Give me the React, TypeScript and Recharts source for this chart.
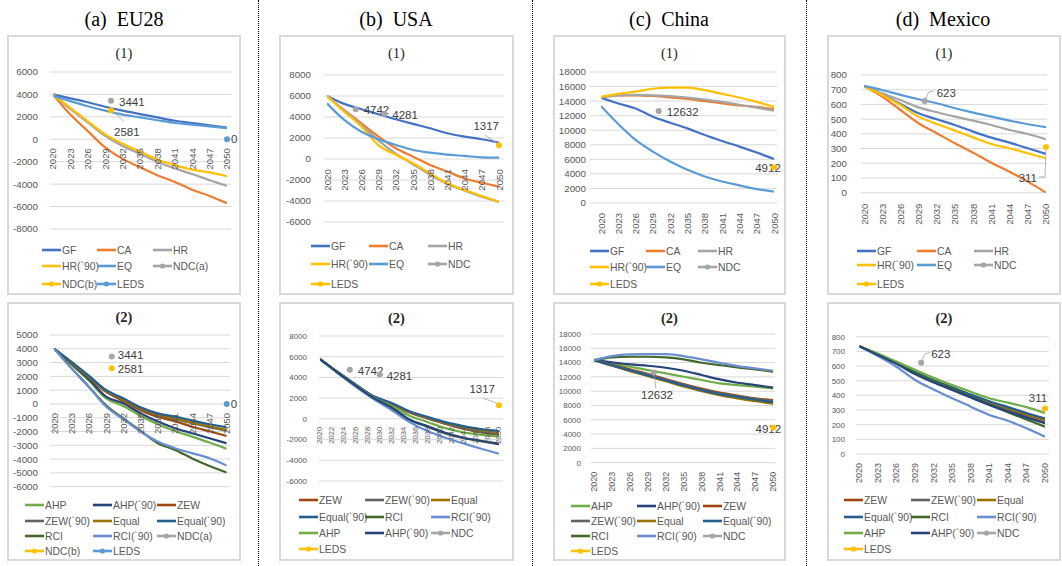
import React from 'react'
import { LineChart, Line, XAxis, YAxis, CartesianGrid, ReferenceDot } from 'recharts'

const SANS = '"Liberation Sans", Arial, sans-serif'
const SERIF = '"Liberation Serif", "Times New Roman", serif'

// years used for the series values, and the tick labels
const years = [2020, 2023, 2026, 2029, 2032, 2035, 2038, 2041, 2044, 2047, 2050]
const yearTicks2 = [2020, 2022, 2024, 2026, 2028, 2030, 2032, 2034, 2036, 2038, 2040, 2042, 2044, 2046, 2048, 2050]

const euTicks1 = [-8000, -6000, -4000, -2000, 0, 2000, 4000, 6000]
const euTicks2 = [-6000, -5000, -4000, -3000, -2000, -1000, 0, 1000, 2000, 3000, 4000, 5000]
const usTicks = [-6000, -4000, -2000, 0, 2000, 4000, 6000, 8000]
const cnTicks = [0, 2000, 4000, 6000, 8000, 10000, 12000, 14000, 16000, 18000]
const mxTicks = [0, 100, 200, 300, 400, 500, 600, 700, 800]

// (a) EU28 (1)
const euGF = [4000, 3650, 3300, 2900, 2550, 2250, 1950, 1650, 1450, 1250, 1050]
const euCA = [4000, 2200, 730, -730, -1750, -2500, -3200, -3800, -4500, -5050, -5700]
const euHR = [4000, 2700, 1500, 300, -600, -1300, -2000, -2600, -3100, -3650, -4150]
const euHR90 = [4000, 2800, 1600, 440, -400, -1100, -1800, -2300, -2700, -2950, -3300]
const euEQ = [3900, 3400, 2950, 2550, 2200, 1950, 1700, 1450, 1300, 1150, 1000]
// (a) EU28 (2)
const euAHP = [4000, 2850, 1700, 410, -145, -870, -1470, -1960, -2370, -2800, -3260]
const euAHP90 = [4000, 2900, 1800, 530, 50, -680, -1280, -1760, -2125, -2490, -2850]
const euZEW = [4000, 2950, 1930, 870, 220, -460, -950, -1250, -1650, -1980, -2320]
const euZEW90 = [4000, 3000, 1980, 930, 300, -360, -820, -1110, -1400, -1680, -1950]
const euEqual = [4000, 3000, 2000, 950, 330, -320, -780, -1060, -1350, -1620, -1880]
const euEqual90 = [4000, 3050, 2050, 1010, 410, -240, -680, -920, -1210, -1470, -1690]
const euRCI = [4000, 2580, 1255, -100, -1050, -1950, -2850, -3330, -3950, -4500, -4975]
const euRCI90 = [4000, 2580, 1255, -190, -1110, -2000, -2730, -3210, -3570, -3940, -4470]
const euNdcAYears = [2030]
const euNdcA = [3441]
const euNdcBYears = [2030]
const euNdcB = [2581]
const euLedsYears = [2050]
const euLeds = [0]

// (b) USA (1)
const usGF = [6000, 5250, 4740, 4260, 3780, 3340, 2930, 2450, 2130, 1880, 1560]
const usCA = [6000, 4650, 3400, 2130, 1020, 220, -570, -1200, -1850, -2260, -2640]
const usHR = [6000, 4600, 3250, 1750, 500, -500, -1500, -2400, -3000, -3600, -4100]
const usHR90 = [6000, 4500, 3100, 1300, 400, -400, -1370, -2320, -2960, -3530, -4070]
const usEQ = [5300, 3720, 2600, 1880, 1340, 860, 600, 410, 290, 160, 130]
// (b) USA (2)
const usZEW = [5760, 4480, 3280, 2100, 1420, 620, 50, -480, -950, -1300, -1550]
const usZEW90 = [5760, 4480, 3280, 2120, 1450, 650, 80, -450, -900, -1250, -1500]
const usEqual = [5760, 4500, 3300, 2150, 1500, 700, 150, -380, -780, -1100, -1350]
const usEqual90 = [5760, 4500, 3300, 2180, 1540, 740, 190, -320, -700, -1000, -1180]
const usRCI = [5760, 4450, 3200, 1950, 1060, -100, -750, -1400, -1850, -2150, -2450]
const usRCI90 = [5760, 4400, 3100, 1920, 850, -300, -1180, -1820, -2370, -2880, -3360]
const usAHP = [5760, 4450, 3250, 2050, 1250, 300, -300, -900, -1300, -1550, -1700]
const usAHP90 = [5760, 4450, 3200, 2000, 1100, -60, -700, -1340, -1820, -2140, -2400]
const usNdcYears = [2025, 2030]
const usNdc = [4742, 4281]
const usLedsYears = [2050]
const usLeds = [1317]

// (c) China (1)
const cnGF = [14450, 13670, 12990, 11850, 11030, 10250, 9340, 8520, 7750, 6930, 6060]
const cnCA = [14500, 14800, 14800, 14700, 14500, 14300, 14000, 13700, 13400, 13200, 12900]
const cnHR = [14500, 14800, 14850, 14800, 14700, 14500, 14200, 13900, 13500, 13100, 12700]
const cnHR90 = [14600, 15000, 15300, 15700, 15850, 15850, 15500, 15000, 14500, 13900, 13200]
const cnEQ = [13300, 10850, 8660, 7060, 5700, 4560, 3650, 2960, 2420, 1910, 1550]
// (c) China (2)
const cnAHP = [14350, 13890, 13420, 12950, 12490, 12020, 11560, 11090, 10860, 10620, 10390]
const cnAHP90 = [14350, 14030, 13750, 13560, 13280, 12860, 12260, 11650, 11180, 10860, 10490]
const cnZEW = [14350, 13700, 13050, 12400, 11700, 11000, 10350, 9800, 9400, 9000, 8750]
const cnZEW90 = [14350, 13650, 12950, 12300, 11600, 10900, 10250, 9700, 9300, 8900, 8600]
const cnEqual = [14350, 13550, 12800, 12100, 11400, 10650, 10000, 9450, 9000, 8600, 8250]
const cnEqual90 = [14350, 13600, 12900, 12200, 11500, 10800, 10150, 9600, 9200, 8800, 8450]
const cnRCI = [14350, 14730, 14820, 14820, 14730, 14450, 13980, 13650, 13330, 13050, 12720]
const cnRCI90 = [14350, 14910, 15145, 15190, 15190, 14900, 14450, 13980, 13510, 13190, 12860]
const cnNdcYears = [2030]
const cnNdc = [12632]
const cnLedsYears = [2050]
const cnLeds = [4912]

// (d) Mexico (1)
const mxGF = [725, 669, 603, 540, 499, 460, 415, 374, 340, 302, 263]
const mxCA = [725, 653, 562, 472, 404, 336, 272, 204, 143, 75, 0]
const mxHR = [725, 676, 630, 580, 547, 517, 490, 460, 426, 399, 363]
const mxHR90 = [725, 664, 596, 517, 467, 422, 376, 331, 302, 268, 234]
const mxEQ = [726, 698, 665, 635, 608, 574, 544, 517, 490, 465, 445]
// (d) Mexico (2)
const mxZEW = [735, 680, 622, 556, 500, 450, 398, 352, 310, 268, 230]
const mxZEW90 = [735, 678, 620, 552, 495, 443, 392, 345, 300, 255, 214]
const mxEqual = [735, 680, 622, 558, 500, 450, 400, 355, 313, 272, 235]
const mxEqual90 = [735, 680, 625, 560, 505, 455, 405, 360, 320, 280, 243]
const mxRCI = [735, 680, 622, 555, 497, 445, 390, 337, 285, 235, 186]
const mxRCI90 = [735, 668, 595, 505, 440, 380, 323, 266, 227, 175, 118]
const mxAHP = [735, 685, 630, 575, 520, 470, 425, 380, 350, 320, 280]
const mxAHP90 = [735, 676, 615, 545, 487, 437, 385, 335, 290, 248, 210]
const mxNdcYears = [2030]
const mxNdc = [623]
const mxLedsYears = [2050]
const mxLeds = [311]

const COL = {
  GF: '#4472C4', CA: '#ED7D31', HR: '#A5A5A5', HR90: '#FFC000', EQ: '#5B9BD5',
  AHP: '#70AD47', AHP90: '#264478', ZEW: '#9E480E', ZEW90: '#636363',
  EQUAL: '#997300', EQUAL90: '#255E91', RCI: '#43682B', RCI90: '#698ED0',
  NDC: '#A5A5A5', LEDS: '#FFC000', LEDS_EU: '#5B9BD5',
}

type Lab = { dx: number; dy: number; anchor?: 'start' | 'middle' | 'end'; leader?: number[][] }
type Series = { name: string; color: string; values: number[] }
type Points = { name: string; color: string; years: number[]; values: number[]; labels: Lab[] }

const ser = (name: string, color: string, values: number[]): Series => ({ name, color, values })
const pts = (name: string, color: string, yrs: number[], values: number[], labels: Lab[]): Points => ({ name, color, years: yrs, values, labels })

const top5 = (gf: number[], ca: number[], hr: number[], hr90: number[], eq: number[]) => [
  ser('GF', COL.GF, gf), ser('CA', COL.CA, ca), ser('HR', COL.HR, hr),
  ser('HR(`90)', COL.HR90, hr90), ser('EQ', COL.EQ, eq),
]

const panels = [
  {
    id: 'a1', title: '(1)', bold: false, titleY: 53,
    box: { l: 7, t: 35, w: 234, h: 260 }, plot: { l: 50, r: 231, t: 72, b: 229 },
    padX: [3, 4], yDomain: [-8000, 6000], yTicks: euTicks1, labelRight: 38, yFont: 9.8,
    xTicks: years, xFont: 9.5, xGap: 9,
    series: top5(euGF, euCA, euHR, euHR90, euEQ),
    points: [
      pts('NDC(a)', COL.NDC, euNdcAYears, euNdcA, [{ dx: 8, dy: 1 }]),
      pts('NDC(b)', COL.HR90, euNdcBYears, euNdcB, [{ dx: 3, dy: 22, leader: [[3, 2], [13, 11]] }]),
      pts('LEDS', COL.LEDS_EU, euLedsYears, euLeds, [{ dx: 4, dy: 0 }]),
    ],
    legendRows: [250, 266, 284], legendCols: [42, 97, 153],
  },
  {
    id: 'a2', title: '(2)', bold: true, titleY: 317,
    box: { l: 7, t: 302, w: 234, h: 259 }, plot: { l: 50, r: 230, t: 335, b: 486.7 },
    padX: [4.3, 3.3], yDomain: [-6000, 5000], yTicks: euTicks2, labelRight: 38, yFont: 9.8,
    xTicks: years, xFont: 9.5, xGap: 9,
    series: [
      ser('AHP', COL.AHP, euAHP), ser('AHP(`90)', COL.AHP90, euAHP90), ser('ZEW', COL.ZEW, euZEW),
      ser('ZEW(`90)', COL.ZEW90, euZEW90), ser('Equal', COL.EQUAL, euEqual), ser('Equal(`90)', COL.EQUAL90, euEqual90),
      ser('RCI', COL.RCI, euRCI), ser('RCI(`90)', COL.RCI90, euRCI90),
    ],
    points: [
      pts('NDC(a)', COL.NDC, euNdcAYears, euNdcA, [{ dx: 6, dy: -1 }]),
      pts('NDC(b)', COL.HR90, euNdcBYears, euNdcB, [{ dx: 6, dy: 1 }]),
      pts('LEDS', COL.LEDS_EU, euLedsYears, euLeds, [{ dx: 4, dy: 0 }]),
    ],
    legendRows: [505, 521, 536, 551], legendCols: [25, 93, 157],
  },
  {
    id: 'b1', title: '(1)', bold: false, titleY: 53,
    box: { l: 279, t: 35, w: 235, h: 260 }, plot: { l: 324, r: 504, t: 75, b: 222 },
    padX: [3, 5], yDomain: [-6000, 8000], yTicks: usTicks, labelRight: 311, yFont: 9.8,
    xTicks: years, xFont: 9.8, xGap: 10,
    series: top5(usGF, usCA, usHR, usHR90, usEQ),
    points: [
      pts('NDC', COL.NDC, usNdcYears, usNdc, [{ dx: 8, dy: 1 }, { dx: 8, dy: 1 }]),
      pts('LEDS', COL.LEDS, usLedsYears, usLeds, [{ dx: 0, dy: -19, anchor: 'end', leader: [[-2, -2], [-14, -10]] }]),
    ],
    legendRows: [246, 264, 284], legendCols: [311, 369, 428],
  },
  {
    id: 'b2', title: '(2)', bold: true, titleY: 318,
    box: { l: 279, t: 302, w: 235, h: 259 }, plot: { l: 319, r: 503, t: 336, b: 481 },
    padX: [1, 4], yDomain: [-6000, 8000], yTicks: usTicks, labelRight: 307, yFont: 8,
    xTicks: yearTicks2, xFont: 7.6, xGap: 8,
    series: [
      ser('ZEW', COL.ZEW, usZEW), ser('ZEW(`90)', COL.ZEW90, usZEW90), ser('Equal', COL.EQUAL, usEqual),
      ser('Equal(`90)', COL.EQUAL90, usEqual90), ser('RCI', COL.RCI, usRCI), ser('RCI(`90)', COL.RCI90, usRCI90),
      ser('AHP', COL.AHP, usAHP), ser('AHP(`90)', COL.AHP90, usAHP90),
    ],
    points: [
      pts('NDC', COL.NDC, usNdcYears, usNdc, [{ dx: 8, dy: 1 }, { dx: 7, dy: 1 }]),
      pts('LEDS', COL.LEDS, usLedsYears, usLeds, [{ dx: -4, dy: -16, anchor: 'end', leader: [[-2, -2], [-16, -7]] }]),
    ],
    legendRows: [500, 517, 533, 549], legendCols: [299, 365, 431],
  },
  {
    id: 'c1', title: '(1)', bold: false, titleY: 53,
    box: { l: 553, t: 35, w: 233, h: 260 }, plot: { l: 590, r: 777, t: 72, b: 203 },
    padX: [11, 3], yDomain: [0, 18000], yTicks: cnTicks, labelRight: 586, yFont: 9.8,
    xTicks: years, xFont: 9.5, xGap: 10,
    series: top5(cnGF, cnCA, cnHR, cnHR90, cnEQ),
    points: [
      pts('NDC', COL.NDC, cnNdcYears, cnNdc, [{ dx: 8, dy: 1 }]),
      pts('LEDS', COL.LEDS, cnLedsYears, cnLeds, [{ dx: -6, dy: 1, anchor: 'middle' }]),
    ],
    legendRows: [251, 267, 284], legendCols: [590, 646, 698],
  },
  {
    id: 'c2', title: '(2)', bold: true, titleY: 318,
    box: { l: 553, t: 302, w: 233, h: 259 }, plot: { l: 591, r: 775, t: 334, b: 462.7 },
    padX: [3.3, 1.7], yDomain: [0, 18000], yTicks: cnTicks, labelRight: 581, yFont: 8,
    xTicks: years, xFont: 9, xGap: 9,
    series: [
      ser('AHP', COL.AHP, cnAHP), ser('AHP(`90)', COL.AHP90, cnAHP90), ser('ZEW', COL.ZEW, cnZEW),
      ser('ZEW(`90)', COL.ZEW90, cnZEW90), ser('Equal', COL.EQUAL, cnEqual), ser('Equal(`90)', COL.EQUAL90, cnEqual90),
      ser('RCI', COL.RCI, cnRCI), ser('RCI(`90)', COL.RCI90, cnRCI90),
    ],
    points: [
      pts('NDC', COL.NDC, cnNdcYears, cnNdc, [{ dx: 3, dy: 23, anchor: 'middle', leader: [[0, 2], [2, 16]] }]),
      pts('LEDS', COL.LEDS, cnLedsYears, cnLeds, [{ dx: -5, dy: 1, anchor: 'middle' }]),
    ],
    legendRows: [506, 521, 536, 551], legendCols: [571, 637, 703],
  },
  {
    id: 'd1', title: '(1)', bold: false, titleY: 53,
    box: { l: 827, t: 35, w: 234, h: 260 }, plot: { l: 861, r: 1047, t: 75, b: 192.7 },
    padX: [3, 1], yDomain: [0, 800], yTicks: mxTicks, labelRight: 847, yFont: 9.8,
    xTicks: years, xFont: 9.5, xGap: 11,
    series: top5(mxGF, mxCA, mxHR, mxHR90, mxEQ),
    points: [
      pts('NDC', COL.NDC, mxNdcYears, mxNdc, [{ dx: 12, dy: -8, leader: [[1, -2], [4, -9], [9, -10]] }]),
      pts('LEDS', COL.LEDS, mxLedsYears, mxLeds, [{ dx: -9, dy: 31, anchor: 'end', leader: [[-7, 30], [-1, 30], [0, 3]] }]),
    ],
    legendRows: [251, 265, 284], legendCols: [857, 917, 974],
  },
  {
    id: 'd2', title: '(2)', bold: true, titleY: 318,
    box: { l: 827, t: 302, w: 234, h: 259 }, plot: { l: 856, r: 1049, t: 336.7, b: 454 },
    padX: [3.3, 4], yDomain: [0, 800], yTicks: mxTicks, labelRight: 845, yFont: 8,
    xTicks: years, xFont: 9, xGap: 9,
    series: [
      ser('ZEW', COL.ZEW, mxZEW), ser('ZEW(`90)', COL.ZEW90, mxZEW90), ser('Equal', COL.EQUAL, mxEqual),
      ser('Equal(`90)', COL.EQUAL90, mxEqual90), ser('RCI', COL.RCI, mxRCI), ser('RCI(`90)', COL.RCI90, mxRCI90),
      ser('AHP', COL.AHP, mxAHP), ser('AHP(`90)', COL.AHP90, mxAHP90),
    ],
    points: [
      pts('NDC', COL.NDC, mxNdcYears, mxNdc, [{ dx: 10, dy: -9, leader: [[0, -1], [4, -9], [9, -10]] }]),
      pts('LEDS', COL.LEDS, mxLedsYears, mxLeds, [{ dx: -7, dy: -10, anchor: 'middle' }]),
    ],
    legendRows: [500, 517, 533, 549], legendCols: [844, 911, 977],
  },
]

const headers = [
  { text: '(a)  EU28', cx: 124 },
  { text: '(b)  USA', cx: 396 },
  { text: '(c)  China', cx: 669 },
  { text: '(d)  Mexico', cx: 943 },
]
const separators = [258, 532, 806]

function PanelLegend({ p }: { p: any }) {
  const items = [
    ...p.series.map((s: Series) => ({ name: s.name, color: s.color, marker: false })),
    ...p.points.map((s: Points) => ({ name: s.name, color: s.color, marker: true })),
  ]
  return (
    <>
      {items.map((it, i) => (
        <div
          key={it.name}
          style={{
            position: 'absolute', left: p.legendCols[i % 3], top: p.legendRows[Math.floor(i / 3)] - 8,
            height: 16, display: 'flex', alignItems: 'center', whiteSpace: 'nowrap',
          }}
        >
          <svg width={19} height={8} style={{ display: 'block' }}>
            <line x1={0} y1={4} x2={19} y2={4} stroke={it.color} strokeWidth={2.6} />
            {it.marker && <circle cx={9.5} cy={4} r={2.6} fill={it.color} />}
          </svg>
          <span style={{ marginLeft: 1, fontFamily: SANS, fontSize: 10.4, color: '#595959' }}>{it.name}</span>
        </div>
      ))}
    </>
  )
}

function Panel({ p }: { p: any }) {
  const { box, plot } = p
  const chartH = plot.b - box.t + 36
  const margin = { top: plot.t - box.t, right: box.l + box.w - plot.r, bottom: chartH - (plot.b - box.t), left: 0 }
  return (
    <>
      <div
        style={{
          position: 'absolute', left: box.l, top: box.t, width: box.w, height: box.h,
          boxShadow: 'inset 0 0 0 2px #d9d9d9', background: '#fff',
        }}
      />
      <div
        style={{
          position: 'absolute', left: box.l, top: p.titleY - 9, width: box.w, lineHeight: '18px',
          textAlign: 'center', fontFamily: SERIF, fontSize: 14.5, fontWeight: p.bold ? 700 : 400, color: '#262626',
        }}
      >
        {p.title}
      </div>
      <div style={{ position: 'absolute', left: box.l, top: box.t }}>
        <LineChart width={box.w} height={chartH} margin={margin}>
          <CartesianGrid vertical={false} stroke="#d9d9d9" strokeWidth={1} />
          <XAxis
            type="number" dataKey="year" domain={[2020, 2050]} hide
            padding={{ left: p.padX[0], right: p.padX[1] }} allowDataOverflow
          />
          <YAxis
            type="number" domain={p.yDomain} ticks={p.yTicks} interval={0} allowDataOverflow
            width={plot.l - box.l} axisLine={false} tickLine={false} tickSize={0}
            tickMargin={plot.l - p.labelRight}
            tick={{ fill: '#595959', fontSize: p.yFont, fontFamily: SANS }}
          />
          {p.xTicks.map((t: number) => (
            <ReferenceDot
              key={'x' + t} x={t} y={0} r={0} ifOverflow="visible"
              shape={(d: any) => {
                const x = d.cx
                const y = d.cy + p.xGap
                return (
                  <text
                    x={x} y={y} transform={`rotate(-90 ${x} ${y})`} textAnchor="end"
                    dominantBaseline="central" fontSize={p.xFont} fontFamily={SANS} fill="#595959"
                  >
                    {t}
                  </text>
                )
              }}
            />
          ))}
          {p.series.map((s: Series) => (
            <Line
              key={s.name}
              data={s.values.map((v, i) => ({ year: years[i], v }))}
              dataKey="v" name={s.name} type="monotone" stroke={s.color} strokeWidth={2.2}
              dot={false} activeDot={false} isAnimationActive={false}
            />
          ))}
          {p.points.map((s: Points) =>
            s.values.map((v, i) => (
              <ReferenceDot
                key={s.name + i} x={s.years[i]} y={v} r={3} ifOverflow="visible"
                shape={(d: any) => {
                  const lab = s.labels[i]
                  const { cx, cy } = d
                  return (
                    <g>
                      {lab.leader && (
                        <polyline
                          points={lab.leader.map(([a, b]) => `${cx + a},${cy + b}`).join(' ')}
                          fill="none" stroke="#a5a5a5" strokeWidth={0.8}
                        />
                      )}
                      <text
                        x={cx + lab.dx} y={cy + lab.dy} textAnchor={lab.anchor || 'start'}
                        dominantBaseline="central" fontSize={11.5} fontFamily={SANS} fill="#404040"
                      >
                        {v}
                      </text>
                      <circle cx={cx} cy={cy} r={3} fill={s.color} />
                    </g>
                  )
                }}
              />
            ))
          )}
        </LineChart>
      </div>
      <PanelLegend p={p} />
    </>
  )
}

export default function App() {
  return (
    <div style={{ position: 'absolute', left: 0, top: 0, width: 1062, height: 566, background: '#fff', overflow: 'hidden' }}>
      {headers.map((h) => (
        <div
          key={h.text}
          style={{
            position: 'absolute', left: h.cx - 80, top: 6, width: 160, textAlign: 'center',
            fontFamily: SERIF, fontSize: 20, lineHeight: '26px', whiteSpace: 'pre', color: '#000',
          }}
        >
          {h.text}
        </div>
      ))}
      {separators.map((x) => (
        <div key={x} style={{ position: 'absolute', left: x, top: 0, height: 566, borderLeft: '1px dotted #000' }} />
      ))}
      {panels.map((p) => (
        <Panel key={p.id} p={p} />
      ))}
    </div>
  )
}
